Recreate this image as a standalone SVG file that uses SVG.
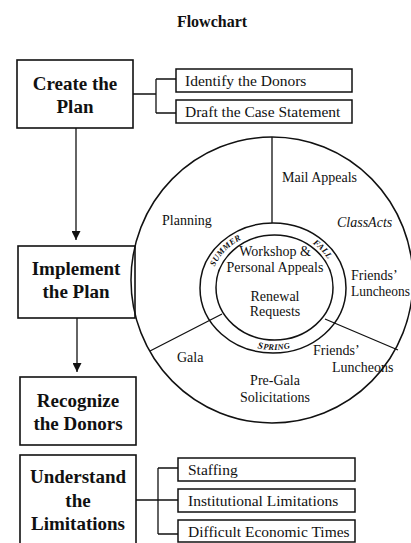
<svg xmlns="http://www.w3.org/2000/svg" width="411" height="543" viewBox="0 0 411 543">
  <style>
    .box { fill: #fff; stroke: #111; stroke-width: 1.6; }
    .sub { fill: #fff; stroke: #111; stroke-width: 1.5; }
    .line { fill: none; stroke: #111; stroke-width: 1.3; }
    .ring { fill: none; stroke: #111; stroke-width: 1.5; }
    .head { font-family: "Liberation Serif", "Times New Roman", serif; font-weight: bold; font-size: 19px; fill: #111; text-anchor: middle; }
    .item { font-family: "Liberation Serif", "Times New Roman", serif; font-size: 15.5px; fill: #111; }
    .lbl { font-family: "Liberation Serif", "Times New Roman", serif; font-size: 14px; fill: #111; }
    .mid { text-anchor: middle; }
    .season { font-family: "Liberation Serif", "Times New Roman", serif; font-size: 8.5px; font-weight: bold; font-style: italic; fill: #111; text-anchor: middle; letter-spacing: 0.3px; }
  </style>
  <defs>
    <marker id="arrow" viewBox="0 0 10 10" refX="10" refY="5" markerWidth="9" markerHeight="9" markerUnits="userSpaceOnUse" orient="auto">
      <path d="M0,0 L10,5 L0,10 Z" fill="#111"/>
    </marker>
    <!-- baseline arcs between the two inner rings -->
    <path id="topArc" d="M 210 288 A 63.5 56.5 0 0 1 337 288"/>
    <path id="bottomArc" d="M 206 288 A 68 62 0 0 0 342 288"/>
  </defs>

  <rect width="411" height="543" fill="#fff"/>

  <text x="212" y="27" font-family="Liberation Serif, Times New Roman, serif" font-weight="bold" font-size="16" fill="#111" text-anchor="middle">Flowchart</text>

  <!-- connectors -->
  <g id="connectors">
    <path class="line" d="M133 94 H156 M156 79 V113 M156 79 H176 M156 113 H176"/>
    <path class="line" d="M136 500 H158 M158 468 V534 M158 468 H178 M158 500 H178 M158 534 H178"/>
    <line class="line" x1="76" y1="128" x2="76" y2="240" marker-end="url(#arrow)"/>
    <line class="line" x1="77" y1="318" x2="77" y2="372" marker-end="url(#arrow)"/>
  </g>

  <g id="create-plan">
    <rect class="box" x="17" y="60" width="116" height="68"/>
    <text class="head" x="75" y="90">Create the</text>
    <text class="head" x="75" y="113">Plan</text>
  </g>
  <g id="identify-donors">
    <rect class="sub" x="176" y="69" width="176" height="23"/>
    <text class="item" x="185" y="86">Identify the Donors</text>
  </g>
  <g id="draft-case">
    <rect class="sub" x="176" y="100" width="176" height="23"/>
    <text class="item" x="185" y="117">Draft the Case Statement</text>
  </g>

  <g id="implement-plan">
    <rect class="box" x="18" y="246" width="117" height="72"/>
    <text class="head" x="76" y="275">Implement</text>
    <text class="head" x="76" y="298">the Plan</text>
  </g>

  <g id="recognize-donors">
    <rect class="box" x="20" y="377" width="116" height="68"/>
    <text class="head" x="78" y="407">Recognize</text>
    <text class="head" x="78" y="430">the Donors</text>
  </g>

  <g id="understand-limitations">
    <rect class="box" x="20" y="455" width="116" height="92"/>
    <text class="head" x="78" y="483">Understand</text>
    <text class="head" x="78" y="507">the</text>
    <text class="head" x="78" y="530">Limitations</text>
  </g>
  <g id="staffing">
    <rect class="sub" x="178" y="458" width="177" height="23"/>
    <text class="item" x="188" y="475">Staffing</text>
  </g>
  <g id="institutional">
    <rect class="sub" x="178" y="489" width="177" height="23"/>
    <text class="item" x="188" y="506">Institutional Limitations</text>
  </g>
  <g id="economic">
    <rect class="sub" x="178" y="520" width="177" height="22"/>
    <text class="item" x="188" y="537">Difficult Economic Times</text>
  </g>

  <!-- annual cycle wheel -->
  <g id="cycle">
    <ellipse class="ring" cx="272" cy="280" rx="141" ry="143"/>
    <ellipse class="ring" cx="273" cy="288" rx="73" ry="65"/>
    <ellipse class="ring" cx="274.5" cy="287.5" rx="58.5" ry="52.5"/>
    <path class="line" d="M272 137 V223 M150 351 L222 314 M325 319 L398 350"/>

    <text class="season"><textPath href="#topArc" startOffset="22%">SUMMER</textPath></text>
    <text class="season"><textPath href="#topArc" startOffset="78%">FALL</textPath></text>
    <text class="season"><textPath href="#bottomArc" startOffset="50%"><tspan font-size="9.5">S</tspan>PRING</textPath></text>

    <text class="lbl" x="282" y="182">Mail Appeals</text>
    <text class="lbl" x="162" y="225">Planning</text>
    <text class="lbl" x="337" y="227" font-style="italic">ClassActs</text>
    <text class="lbl mid" x="275" y="256">Workshop &amp;</text>
    <text class="lbl mid" x="275" y="272">Personal Appeals</text>
    <text class="lbl mid" x="275" y="301">Renewal</text>
    <text class="lbl mid" x="275" y="316">Requests</text>
    <text class="lbl" x="351" y="280">Friends’</text>
    <text class="lbl" x="351" y="296" textLength="59" lengthAdjust="spacingAndGlyphs">Luncheons</text>
    <text class="lbl" x="313" y="355">Friends’</text>
    <text class="lbl" x="332" y="372">Luncheons</text>
    <text class="lbl" x="177" y="362">Gala</text>
    <text class="lbl mid" x="275" y="385">Pre-Gala</text>
    <text class="lbl mid" x="275" y="402">Solicitations</text>
  </g>
</svg>
